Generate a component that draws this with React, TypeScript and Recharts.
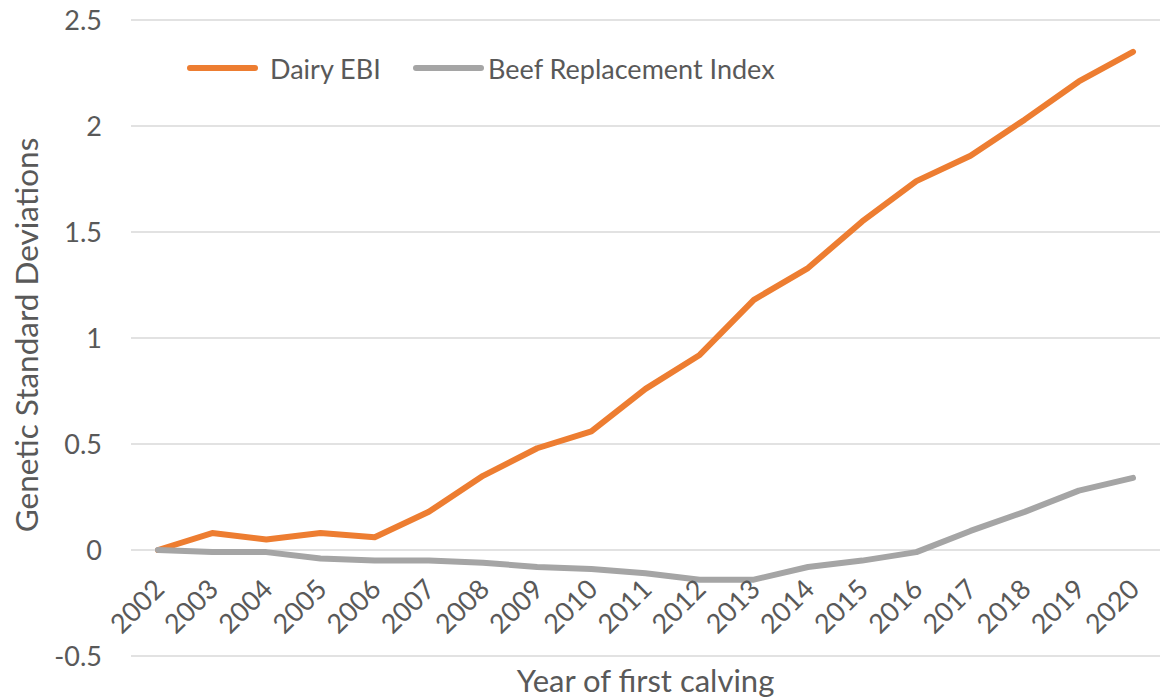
import { LineChart, Line, XAxis, YAxis, CartesianGrid, Legend } from "recharts";

const years = [
  "2002", "2003", "2004", "2005", "2006", "2007", "2008", "2009", "2010", "2011",
  "2012", "2013", "2014", "2015", "2016", "2017", "2018", "2019", "2020",
];
const dairyEbi = [
  0, 0.08, 0.05, 0.08, 0.06, 0.18, 0.35, 0.48, 0.56, 0.76,
  0.92, 1.18, 1.33, 1.55, 1.74, 1.86, 2.03, 2.21, 2.35,
];
const beefReplacement = [
  0, -0.01, -0.01, -0.04, -0.05, -0.05, -0.06, -0.08, -0.09, -0.11,
  -0.14, -0.14, -0.08, -0.05, -0.01, 0.09, 0.18, 0.28, 0.34,
];
const yTicks = [-0.5, 0, 0.5, 1, 1.5, 2, 2.5];
const seriesOrder = ["Dairy EBI", "Beef Replacement Index"];

const data = years.map((year, i) => ({
  year,
  dairy: dairyEbi[i],
  beef: beefReplacement[i],
}));

const FONT = "Lato, 'Open Sans', sans-serif";
const TEXT = "#595959";

// Excel draws the category labels next to the zero line, not at the bottom
function YearTick({ x, y, payload }: any) {
  const ax = x + 8;
  const ay = y - 65;
  return (
    <text
      x={ax}
      y={ay}
      textAnchor="end"
      fill={TEXT}
      fontSize={27}
      fontFamily={FONT}
      transform={`rotate(-45 ${ax} ${ay})`}
    >
      {payload.value}
    </text>
  );
}

function LegendContent({ payload }: any) {
  const items = [...(payload || [])].sort(
    (a: any, b: any) => seriesOrder.indexOf(a.value) - seriesOrder.indexOf(b.value)
  );
  return (
    <div style={{ display: "flex", alignItems: "center", height: 32, fontFamily: FONT, fontSize: 27, color: TEXT }}>
      {items.map((entry: any, i: number) => (
        <div
          key={entry.value}
          style={{ display: "flex", alignItems: "center", flexShrink: 0, width: i === 0 ? 226 : "auto" }}
        >
          <span
            style={{
              display: "inline-block",
              flexShrink: 0,
              width: 71,
              height: 6,
              borderRadius: 3,
              background: entry.color,
              marginRight: i === 0 ? 12 : 4,
            }}
          />
          <span style={{ whiteSpace: "nowrap" }}>{entry.value}</span>
        </div>
      ))}
    </div>
  );
}

export default function App() {
  return (
    <div style={{ position: "absolute", left: 0, top: 0, width: 1160, height: 700, background: "#fff" }}>
      <LineChart
        width={1160}
        height={700}
        data={data}
        margin={{ top: 20, right: 0, bottom: 0, left: 0 }}
        style={{ fontFamily: FONT }}
      >
        <CartesianGrid vertical={false} stroke="#D9D9D9" strokeWidth={1.5} />
        <XAxis
          dataKey="year"
          height={44}
          padding={{ left: 27, right: 27 }}
          axisLine={false}
          tickLine={false}
          tickSize={0}
          tickMargin={0}
          interval={0}
          tick={<YearTick />}
          label={{
            content: ({ viewBox }: any) => (
              <text
                x={viewBox.x + viewBox.width / 2}
                y={692}
                textAnchor="middle"
                fill={TEXT}
                fontSize={31}
                fontFamily={FONT}
              >
                Year of first calving
              </text>
            ),
          }}
        />
        <YAxis
          width={131}
          domain={[-0.5, 2.5]}
          ticks={yTicks}
          axisLine={false}
          tickLine={false}
          tickSize={0}
          tickMargin={29}
          tick={{ fill: TEXT, fontSize: 27, fontFamily: FONT }}
          label={{
            content: ({ viewBox }: any) => {
              const cx = 38;
              const cy = viewBox.y + viewBox.height / 2 - 3;
              return (
                <text
                  x={cx}
                  y={cy}
                  textAnchor="middle"
                  fill={TEXT}
                  fontSize={31.5}
                  fontFamily={FONT}
                  transform={`rotate(-90 ${cx} ${cy})`}
                >
                  Genetic Standard Deviations
                </text>
              );
            },
          }}
        />
        <Legend
          layout="horizontal"
          verticalAlign="middle"
          align="center"
          content={<LegendContent />}
          wrapperStyle={{ position: "absolute", left: 187, top: 52, width: "auto", height: 32 }}
        />
        <Line
          type="linear"
          dataKey="dairy"
          name="Dairy EBI"
          stroke="#ED7D31"
          strokeWidth={6}
          strokeLinecap="round"
          strokeLinejoin="round"
          dot={false}
          activeDot={false}
          isAnimationActive={false}
        />
        <Line
          type="linear"
          dataKey="beef"
          name="Beef Replacement Index"
          stroke="#A5A5A5"
          strokeWidth={6}
          strokeLinecap="round"
          strokeLinejoin="round"
          dot={false}
          activeDot={false}
          isAnimationActive={false}
        />
      </LineChart>
    </div>
  );
}
